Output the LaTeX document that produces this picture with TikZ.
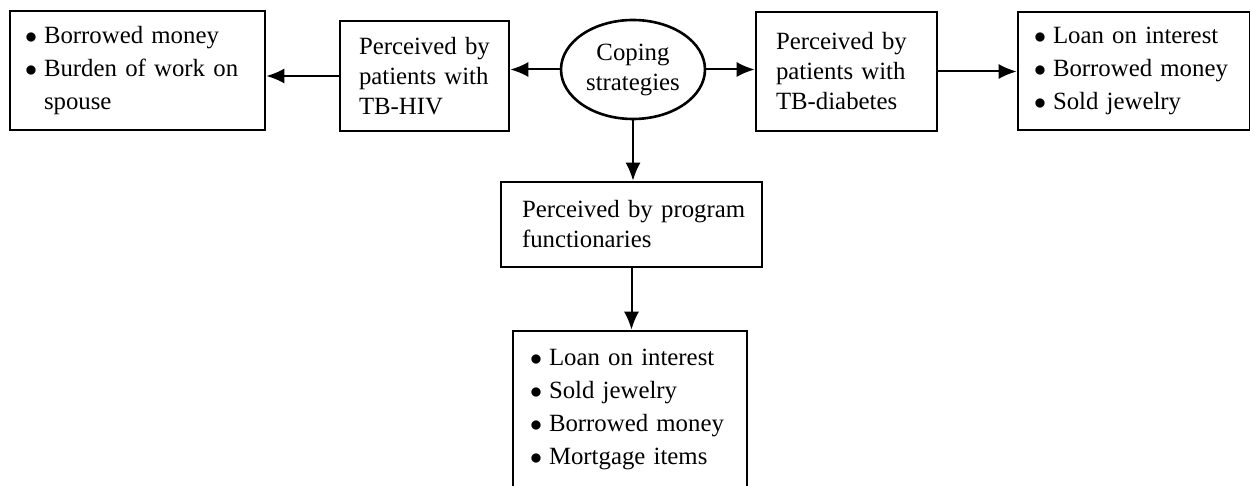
\documentclass[tikz,border=0pt]{standalone}
\usepackage{fontspec}
\setmainfont{Liberation Serif}
\usetikzlibrary{shapes.geometric,arrows.meta}
\newcommand{\bul}{\makebox[8pt][l]{\hspace*{-1.5pt}$\bullet$}}
\newcommand{\plainsz}{\fontsize{12.4}{15}\selectfont}
\newcommand{\listsz}{\fontsize{12.4}{16.5}\selectfont}

\begin{document}
\begin{tikzpicture}[
            x=0.5pt,y=-0.5pt,
            mybox/.style={
            draw,
            line width=1.3pt,
            align=left,
            inner ysep=0pt,
            font=\plainsz
            },
            mylist/.style={mybox,font=\listsz},
            myarrow/.style={-{Latex[length=9pt,width=7.5pt]},line width=1pt}
            ]
            \useasboundingbox (0,0) rectangle (1250,486);
            \node[mylist,minimum width=127.5pt,minimum height=59.5pt,inner xsep=9pt,text width=109.5pt] (hivlist) at (137.5,70.5)
            {\bul\mbox{Borrowed money}\\ \bul\mbox{Burden of work on}\\ \hspace*{8pt}spouse};
            \node[mybox,minimum width=84.5pt,minimum height=55pt,inner xsep=9.5pt,text width=65.5pt] (hiv) at (424.5,76)
            {\mbox{Perceived by}\\ \mbox{patients with}\\ TB-HIV};
            \node[draw,ellipse,line width=1.3pt,minimum width=72pt,minimum height=49.5pt,inner sep=0pt,align=center,font=\plainsz] (coping) at (633,69.5)
            {Coping\\ strategies};
            \node[mybox,minimum width=90.5pt,minimum height=59.5pt,inner xsep=10pt,text width=70.5pt] (diab) at (846.5,71.5)
            {\mbox{Perceived by}\\ \mbox{patients with}\\ TB-diabetes};
            \node[mylist,minimum width=116pt,minimum height=59pt,inner xsep=9.5pt,text width=97pt] (diablist) at (1134,71)
            {\bul\mbox{Loan on interest}\\ \bul\mbox{Borrowed money}\\ \bul\mbox{Sold jewelry}};
            \node[mybox,minimum width=130.5pt,minimum height=42.5pt,inner xsep=10.5pt,text width=109.5pt] (prog) at (631.5,224.5)
            {\mbox{Perceived by program}\\ functionaries};
            \node[mylist,minimum width=117pt,minimum height=78.5pt,inner xsep=10pt,text width=97pt] (proglist) at (630,409.5)
            {\bul\mbox{Loan on interest}\\ \bul\mbox{Sold jewelry}\\ \bul\mbox{Borrowed money}\\ \bul\mbox{Mortgage items}};
            \draw[myarrow] (hiv.west) -- (hiv.west -| hivlist.east);
            \draw[myarrow] (coping.west) -- (coping.west -| hiv.east);
            \draw[myarrow] (coping.east) -- (coping.east -| diab.west);
            \draw[myarrow] (diab.east) -- (diab.east -| diablist.west);
            \draw[myarrow] (coping.south) -- (coping.south |- prog.north);
            \draw[myarrow] (prog.south) -- (prog.south |- proglist.north);
        \end{tikzpicture}
\end{document}
